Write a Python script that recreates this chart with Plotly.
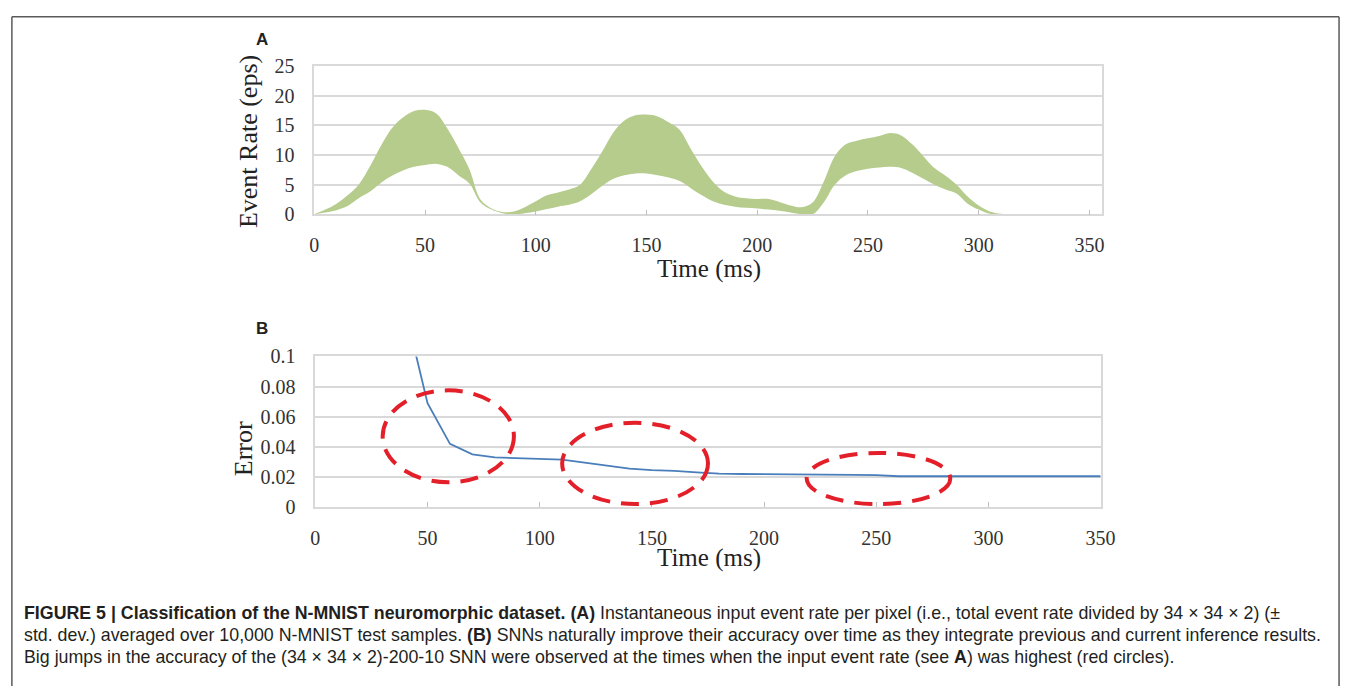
import plotly.graph_objects as go

# ---------------- data ----------------
time_a = [0, 5, 10, 15, 20, 25, 30, 35, 40, 45, 50, 55, 60, 65, 70, 75, 80, 85, 90, 95,
          100, 105, 110, 115, 120, 125, 130, 135, 140, 145, 150, 155, 160, 165, 170, 175,
          180, 185, 190, 195, 200, 205, 210, 215, 220, 225, 230, 235, 240, 245, 250, 255,
          260, 265, 270, 275, 280, 285, 290, 295, 300, 305, 310, 315, 320, 330, 340, 350]
rate_upper = [0, 0.8, 1.8, 3.2, 5.0, 8.0, 11.5, 14.5, 16.3, 17.4, 17.6, 17.0, 14.5, 11.2, 7.6, 2.5,
              1.0, 0.4, 0.5, 1.2, 2.2, 3.2, 3.7, 4.2, 5.0, 7.6, 10.6, 13.8, 15.8, 16.7, 16.8, 16.5,
              15.5, 14.2, 11.0, 8.0, 5.5, 3.8, 3.0, 2.7, 2.6, 2.6, 2.1, 1.5, 1.2, 2.0, 5.5, 9.8,
              11.8, 12.4, 12.8, 13.2, 13.7, 13.3, 11.8, 9.8, 7.8, 6.5, 5.0, 3.0, 1.5, 0.5, 0.1,
              0, 0, 0, 0, 0]
rate_lower = [0, 0.3, 0.7, 1.4, 2.7, 3.8, 5.3, 6.5, 7.4, 8.0, 8.3, 8.5, 8.0, 6.6, 5.2, 2.0,
              0.8, 0.2, 0.0, 0.2, 0.5, 0.9, 1.3, 1.6, 2.2, 3.4, 4.8, 6.0, 6.6, 6.9, 6.9, 6.6,
              6.2, 5.6, 4.4, 3.2, 2.2, 1.6, 1.3, 1.1, 1.0, 0.8, 0.6, 0.3, 0.0, 0.0, 2.0, 5.0,
              6.6, 7.3, 7.7, 7.9, 8.0, 7.8, 7.0, 6.0, 5.0, 4.2, 3.5, 1.8, 0.8, 0.1, 0,
              0, 0, 0, 0, 0]

time_b = [40, 50, 60, 70, 80, 90, 100, 110, 120, 130, 140, 150, 160, 170, 180, 190, 200,
          210, 220, 230, 240, 250, 260, 270, 280, 290, 300, 310, 320, 330, 340, 350]
error_b = [0.131, 0.069, 0.042, 0.035, 0.033, 0.0325, 0.032, 0.0315, 0.0295, 0.0275, 0.0255,
           0.0245, 0.024, 0.023, 0.0222, 0.022, 0.0218, 0.0215, 0.0214, 0.0214, 0.0214, 0.0213,
           0.0205, 0.0205, 0.0205, 0.0205, 0.0205, 0.0205, 0.0205, 0.0205, 0.0205, 0.0205]

# highlighted windows (red dashed ellipses): time start/end, error low/high
circle_t0 = [30, 110, 219]
circle_t1 = [88.5, 175, 283]
circle_e0 = [0.0165, 0.002, 0.002]
circle_e1 = [0.0775, 0.056, 0.036]

x_ticks = [0, 50, 100, 150, 200, 250, 300, 350]
ya_ticks = [0, 5, 10, 15, 20, 25]
yb_ticks = [0, 0.02, 0.04, 0.06, 0.08, 0.1]
yb_labels = ["0", "0.02", "0.04", "0.06", "0.08", "0.1"]

caption_lines = [
    "<b>FIGURE 5 | Classification of the N-MNIST neuromorphic dataset. (A)</b> Instantaneous input event rate per pixel (i.e., total event rate divided by 34 × 34 × 2) (±",
    "std. dev.) averaged over 10,000 N-MNIST test samples. <b>(B)</b> SNNs naturally improve their accuracy over time as they integrate previous and current inference results.",
    "Big jumps in the accuracy of the (34 × 34 × 2)-200-10 SNN were observed at the times when the input event rate (see <b>A</b>) was highest (red circles).",
]

# ---------------- layout helpers ----------------
W, H = 1357, 697
def px(x):
    return x / W
def py(y):
    return 1 - y / H

SERIF = "Liberation Serif, Times New Roman, serif"
SANS = "Liberation Sans, Arial, sans-serif"
GREEN = "#b5cc8c"
BLUE = "#4a7ebb"
RED = "#e3202a"
GRID = "#d9d9d9"
TXT = "#333333"

fig = go.Figure()

fig.add_trace(go.Scatter(x=time_a, y=rate_lower, mode="lines", line=dict(width=0, color=GREEN, shape="spline", smoothing=1.0),
                         xaxis="x", yaxis="y", showlegend=False, hoverinfo="skip"))
fig.add_trace(go.Scatter(x=time_a, y=rate_upper, mode="lines", line=dict(width=0, color=GREEN, shape="spline", smoothing=1.0),
                         fill="tonexty", fillcolor=GREEN, xaxis="x", yaxis="y", showlegend=False))

fig.add_trace(go.Scatter(x=time_b, y=error_b, mode="lines", line=dict(width=1.8, color=BLUE),
                         xaxis="x2", yaxis="y2", showlegend=False))

axis_common = dict(showline=True, mirror=True, linecolor=GRID, linewidth=1.5,
                   tickfont=dict(family=SERIF, size=20, color=TXT), zeroline=False)

fig.update_layout(
    width=W, height=H,
    margin=dict(l=0, r=0, t=0, b=0),
    paper_bgcolor="white", plot_bgcolor="white",
    xaxis=dict(domain=[px(314), px(1113)], range=[0, 355.5], tickvals=x_ticks, showgrid=False,
               ticks="inside", ticklen=5, tickcolor="#bfbfbf", ticklabelstandoff=12,
               anchor="y", **axis_common),
    yaxis=dict(domain=[py(210), py(56.7)], range=[0, 25], tickvals=ya_ticks, showgrid=True,
               gridcolor=GRID, gridwidth=1.5, ticks="", ticklabelstandoff=14,
               anchor="x", **axis_common),
    xaxis2=dict(domain=[px(315), px(1112)], range=[0, 350], tickvals=x_ticks, showgrid=False,
                ticks="inside", ticklen=5, tickcolor="#bfbfbf", ticklabelstandoff=12,
                anchor="y2", **axis_common),
    yaxis2=dict(domain=[py(512.3), py(356.7)], range=[0, 0.1], tickvals=yb_ticks, ticktext=yb_labels,
                showgrid=True, gridcolor=GRID, gridwidth=1.5, ticks="", ticklabelstandoff=14,
                anchor="x2", **axis_common),
)

shapes = []
for t0, t1, e0, e1 in zip(circle_t0, circle_t1, circle_e0, circle_e1):
    shapes.append(dict(type="circle", xref="x2", yref="y2", x0=t0, x1=t1, y0=e0, y1=e1,
                       line=dict(color=RED, width=4, dash="18px,11px")))
# outer frame of the figure (bottom edge runs off the page)
FRAME = dict(color="#5a5a5a", width=1.5)
shapes.append(dict(type="line", xref="paper", yref="paper", x0=px(7), x1=px(7), y0=0, y1=py(6), line=FRAME))
shapes.append(dict(type="line", xref="paper", yref="paper", x0=px(1354), x1=px(1354), y0=0, y1=py(6), line=FRAME))
shapes.append(dict(type="line", xref="paper", yref="paper", x0=px(7), x1=px(1354), y0=py(6), y1=py(6), line=FRAME))
fig.update_layout(shapes=shapes)

ann = []
ann.append(dict(text="<b>A</b>", x=px(253), y=py(29), xref="paper", yref="paper", xanchor="left", yanchor="middle",
                showarrow=False, font=dict(family=SANS, size=17, color="#222")))
ann.append(dict(text="<b>B</b>", x=px(253), y=py(328), xref="paper", yref="paper", xanchor="left", yanchor="middle",
                showarrow=False, font=dict(family=SANS, size=17, color="#222")))
ann.append(dict(text="Time (ms)", x=px(715), y=py(266), xref="paper", yref="paper", xanchor="center", yanchor="middle",
                showarrow=False, font=dict(family=SERIF, size=25, color="#222")))
ann.append(dict(text="Time (ms)", x=px(715), y=py(565), xref="paper", yref="paper", xanchor="center", yanchor="middle",
                showarrow=False, font=dict(family=SERIF, size=25, color="#222")))
ann.append(dict(text="Event Rate (eps)", x=px(247), y=py(135), xref="paper", yref="paper", xanchor="center", yanchor="middle",
                textangle=-90, showarrow=False, font=dict(family=SERIF, size=26, color="#222")))
ann.append(dict(text="Error", x=px(242), y=py(452), xref="paper", yref="paper", xanchor="center", yanchor="middle",
                textangle=-90, showarrow=False, font=dict(family=SERIF, size=26, color="#222")))
for i, line in enumerate(caption_lines):
    ann.append(dict(text=line, x=px(17), y=py(622 + 22.5 * i), xref="paper", yref="paper", xanchor="left",
                    yanchor="middle", showarrow=False, font=dict(family=SANS, size=17.8, color="#231f20")))
fig.update_layout(annotations=ann)

fig.write_html("out.html")
